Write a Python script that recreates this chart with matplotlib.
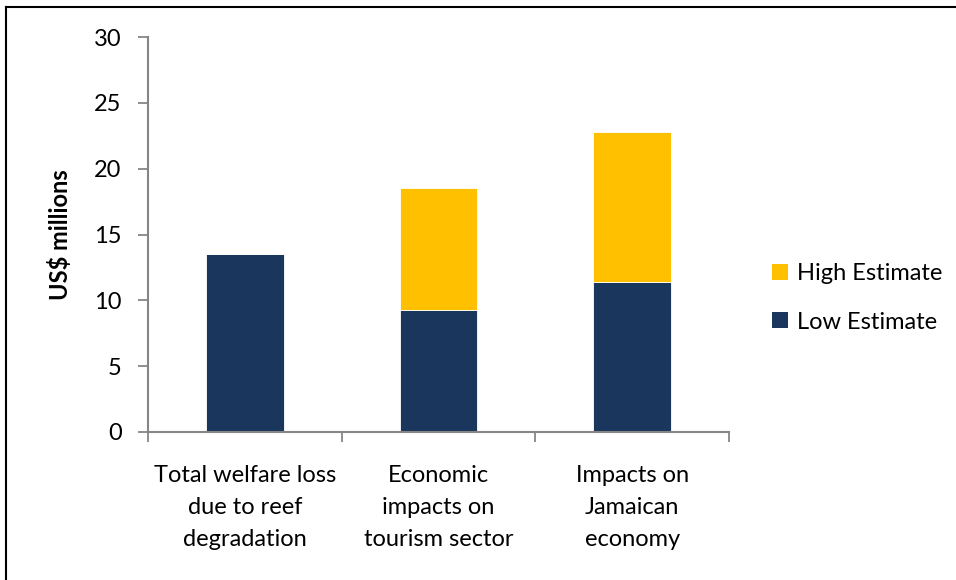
import matplotlib
matplotlib.use("Agg")
import matplotlib.pyplot as plt
from matplotlib.lines import Line2D
from matplotlib.patches import Patch
import numpy as np

categories = ["Total welfare loss\ndue to reef\ndegradation",
              "Economic\nimpacts on\ntourism sector",
              "Impacts on\nJamaican\neconomy"]
low_estimate = [13.5, 9.25, 11.4]
high_extra = [0.0, 9.25, 11.35]
y_ticks = [0, 5, 10, 15, 20, 25, 30]

navy = "#1a365d"
gold = "#ffc000"
axis_grey = "#868686"

plt.rcParams['font.family'] = ['Lato', 'DejaVu Sans']
FS = 17

fig = plt.figure(figsize=(9.56, 5.8), dpi=100)
ax = fig.add_axes([148/956, 1 - 432/580, (729-148)/956, (432-37)/580])

x = np.arange(len(categories))
ax.bar(x, low_estimate, width=0.4, color=navy, edgecolor="white", linewidth=0.6, label="Low Estimate")
ax.bar(x, high_extra, width=0.4, bottom=low_estimate, color=gold, edgecolor="white",
       linewidth=0.6, label="High Estimate")

ax.set_xlim(-0.5, 2.5)
ax.set_ylim(0, 30)
ax.set_yticks(y_ticks)
ax.set_yticklabels([str(v) for v in y_ticks], fontsize=FS)
ax.set_xticks([-0.5, 0.5, 1.5, 2.5])
ax.set_xticklabels([])
ax.set_xticks(x, minor=True)
ax.set_xticklabels(categories, minor=True, fontsize=FS, linespacing=1.65)
ax.tick_params(axis="x", which="minor", length=0, pad=24)
ax.tick_params(axis="x", which="major", direction="out", length=7, width=1.3, color=axis_grey)
ax.tick_params(axis="y", direction="out", length=7, width=1.3, color=axis_grey, pad=12)

for s in ["top", "right"]:
    ax.spines[s].set_visible(False)
for s in ["left", "bottom"]:
    ax.spines[s].set_color(axis_grey)
    ax.spines[s].set_linewidth(1.5)

ax.set_ylabel("US$ millions", fontsize=FS, fontweight="bold", labelpad=16)

handles = [Patch(facecolor=gold, label="High Estimate"),
           Patch(facecolor=navy, label="Low Estimate")]
fig.legend(handles=handles, loc="center left", bbox_to_anchor=(751/956, 1 - 298/580),
           frameon=False, fontsize=FS, handlelength=0.65, handleheight=0.65,
           handletextpad=0.4, labelspacing=1.15)

# outer frame
fig.add_artist(Line2D([6/956, 6/956], [0, 1 - 7/580], transform=fig.transFigure,
                      color="black", linewidth=1.5))
fig.add_artist(Line2D([6/956, 1], [1 - 7/580, 1 - 7/580], transform=fig.transFigure,
                      color="black", linewidth=1.5))

fig.savefig("out.png", dpi=100)
